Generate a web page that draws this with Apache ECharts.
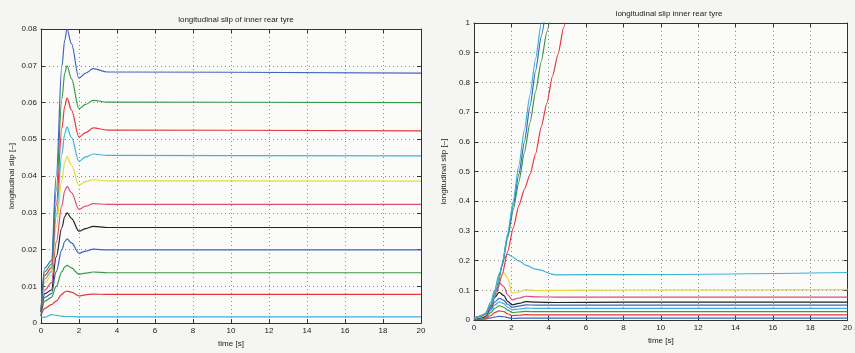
<!DOCTYPE html>
<html>
<head>
<meta charset="utf-8">
<script src="https://cdn.jsdelivr.net/npm/echarts@6/dist/echarts.min.js"></script>
<style>
  html, body { margin: 0; padding: 0; background: #f5f5f3; }
  #chart { width: 855px; height: 353px; }
</style>
</head>
<body>
<div id="chart"></div>
<script>
// left plot: longitudinal slip of inner rear tyre (stable cases)
const timeLeft = [0, 0.2, 0.55, 0.8, 1.1, 1.25, 1.37, 1.6, 2.0, 2.35, 2.75, 3.5, 20]
const leftBlue1 = [0.003, 0.015, 0.017, 0.040, 0.070, 0.077, 0.080, 0.076, 0.0666, 0.0680, 0.0692, 0.0683, 0.068]
const leftGreen1 = [0.003, 0.014, 0.016, 0.036, 0.061, 0.068, 0.070, 0.0665, 0.0583, 0.0595, 0.0606, 0.0601, 0.060]
const leftRed1 = [0.003, 0.013, 0.015, 0.032, 0.053, 0.059, 0.0612, 0.058, 0.0506, 0.0518, 0.0531, 0.0525, 0.0523]
const leftCyan1 = [0.003, 0.012, 0.014, 0.029, 0.046, 0.0515, 0.0533, 0.0505, 0.0440, 0.0452, 0.0460, 0.0456, 0.0455]
const leftYellow = [0.003, 0.011, 0.013, 0.026, 0.039, 0.0438, 0.0453, 0.043, 0.0375, 0.0385, 0.0390, 0.0387, 0.0386]
const leftMagenta = [0.003, 0.009, 0.011, 0.022, 0.032, 0.036, 0.0372, 0.0355, 0.0310, 0.0318, 0.0325, 0.0323, 0.0323]
const leftBlack = [0.003, 0.008, 0.009, 0.018, 0.026, 0.029, 0.0300, 0.0285, 0.0250, 0.0257, 0.0263, 0.0260, 0.0260]
const leftBlue2 = [0.002, 0.007, 0.008, 0.014, 0.020, 0.0222, 0.0229, 0.0218, 0.0190, 0.0196, 0.0201, 0.0199, 0.0199]
const leftGreen2 = [0.002, 0.006, 0.007, 0.010, 0.014, 0.0153, 0.0157, 0.0150, 0.0133, 0.0136, 0.0139, 0.0137, 0.0137]
const leftRed2 = [0.002, 0.004, 0.005, 0.006, 0.0078, 0.0085, 0.0087, 0.0084, 0.0074, 0.0077, 0.0079, 0.0078, 0.0078]
const leftCyan2 = [0.0015, 0.0016, 0.0023, 0.0021, 0.0019, 0.0018, 0.0018, 0.0018, 0.0017, 0.0017, 0.0017, 0.0017, 0.0017]

// right plot: longitudinal slip inner rear tyre (stable cases)
const timeRight = [0, 0.3, 0.6, 0.9, 1.1, 1.35, 1.6, 1.8, 2.05, 2.4, 2.8, 3.3, 4.4, 8, 20]
const rightCyan = [0.005, 0.012, 0.020, 0.060, 0.100, 0.155, 0.205, 0.222, 0.213, 0.199, 0.184, 0.171, 0.152, 0.153, 0.160]
const rightYellow = [0.004, 0.010, 0.016, 0.055, 0.100, 0.152, 0.160, 0.140, 0.090, 0.095, 0.102, 0.099, 0.100, 0.101, 0.102]
const rightMagenta = [0.004, 0.009, 0.014, 0.050, 0.095, 0.125, 0.112, 0.085, 0.068, 0.074, 0.080, 0.078, 0.077, 0.077, 0.077]
const rightBlack = [0.003, 0.008, 0.012, 0.045, 0.075, 0.093, 0.082, 0.063, 0.051, 0.056, 0.062, 0.060, 0.059, 0.060, 0.060]
const rightBlue = [0.003, 0.007, 0.011, 0.038, 0.060, 0.073, 0.066, 0.053, 0.043, 0.047, 0.051, 0.050, 0.050, 0.050, 0.050]
const rightCyan2 = [0.002, 0.006, 0.009, 0.032, 0.050, 0.061, 0.055, 0.043, 0.034, 0.037, 0.040, 0.039, 0.039, 0.039, 0.039]
const rightGreen = [0.002, 0.005, 0.007, 0.025, 0.039, 0.048, 0.043, 0.033, 0.025, 0.027, 0.029, 0.028, 0.028, 0.028, 0.028]
const rightRed = [0.002, 0.004, 0.005, 0.015, 0.025, 0.031, 0.028, 0.021, 0.015, 0.016, 0.018, 0.017, 0.017, 0.017, 0.017]
const rightBlue2 = [0.001, 0.002, 0.003, 0.007, 0.010, 0.012, 0.011, 0.008, 0.005, 0.006, 0.0065, 0.006, 0.006, 0.006, 0.006]

// diverging runs (leave the top of the axes)
const divTime = [0, 0.3, 0.6, 0.9, 1.2, 1.5, 1.8, 2.1, 2.4, 2.7, 3.0, 3.3, 3.6, 3.9, 4.2, 4.5, 4.8, 5.1]
const divCyan = [0.006, 0.012, 0.020, 0.050, 0.100, 0.185, 0.290, 0.400, 0.520, 0.640, 0.760, 0.880, 1.000, 1.120]
const divBlue = [0.006, 0.012, 0.020, 0.050, 0.100, 0.183, 0.285, 0.385, 0.490, 0.600, 0.720, 0.840, 0.955, 1.070]
const divGreen = [0.006, 0.012, 0.020, 0.050, 0.098, 0.180, 0.275, 0.370, 0.465, 0.565, 0.665, 0.770, 0.870, 0.970, 1.070]
const divRed = [0.006, 0.012, 0.020, 0.045, 0.090, 0.150, 0.230, 0.310, 0.385, 0.440, 0.490, 0.560, 0.650, 0.730, 0.820, 0.895, 0.985, 1.080]

const C = {
  b: '#3f67bd', g: '#3a9a48', r: '#e5393f', c: '#3db3d8',
  y: '#e3dc34', m: '#e04a78', k: '#222222'
}

function zip(t, v) {
  return v.map((y, i) => [t[i], y])
}

const fontFamily = 'Liberation Sans, Arial, sans-serif'

function line(t, v, color, grid, smooth) {
  return {
    type: 'line',
    data: zip(t, v),
    xAxisIndex: grid * 2,
    yAxisIndex: grid * 2,
    showSymbol: false,
    smooth: smooth === undefined ? 0.35 : smooth,
    smoothMonotone: 'x',
    clip: true,
    lineStyle: { color: color, width: 1.2 },
    silent: true,
    animation: false
  }
}

function xAxes(grid) {
  const base = {
    type: 'value', gridIndex: grid, min: 0, max: 20, interval: 2,
    axisLine: { show: true, onZero: false, lineStyle: { color: '#333', width: 1 } },
    axisTick: { show: true, inside: true, length: 4, lineStyle: { color: '#333' } }
  }
  return [
    Object.assign({}, base, {
      position: 'bottom',
      name: 'time [s]', nameLocation: 'middle', nameGap: 15,
      nameTextStyle: { fontSize: 8, color: '#222', fontFamily: fontFamily },
      axisLabel: { fontSize: 8, color: '#222', margin: 4, fontFamily: fontFamily },
      splitLine: { show: true, lineStyle: { color: '#8a8a8a', type: [1, 3], width: 1 } }
    }),
    Object.assign({}, base, {
      position: 'top', axisLabel: { show: false }, splitLine: { show: false }
    })
  ]
}

function yAxes(grid, max, interval, gap) {
  const base = {
    type: 'value', gridIndex: grid, min: 0, max: max, interval: interval,
    axisLine: { show: true, onZero: false, lineStyle: { color: '#333', width: 1 } },
    axisTick: { show: true, inside: true, length: 4, lineStyle: { color: '#333' } }
  }
  return [
    Object.assign({}, base, {
      position: 'left',
      name: 'longitudinal slip [\u2013]', nameLocation: 'middle', nameGap: gap,
      nameTextStyle: { fontSize: 8, color: '#222', fontFamily: fontFamily },
      axisLabel: { fontSize: 8, color: '#222', margin: 4, fontFamily: fontFamily },
      splitLine: { show: true, lineStyle: { color: '#8a8a8a', type: [1, 3], width: 1 } }
    }),
    Object.assign({}, base, {
      position: 'right', axisLabel: { show: false }, splitLine: { show: false }
    })
  ]
}

const chart = echarts.init(document.getElementById('chart'))
chart.setOption({
  backgroundColor: '#f5f5f3',
  animation: false,
  title: [
    {
      text: 'longitudinal slip of inner rear tyre', left: 231, top: 11, textAlign: 'center',
      textStyle: { fontSize: 8, fontWeight: 'normal', color: '#222', fontFamily: fontFamily }
    },
    {
      text: 'longitudinal slip inner rear tyre', left: 664, top: 5, textAlign: 'center',
      textStyle: { fontSize: 8, fontWeight: 'normal', color: '#222', fontFamily: fontFamily }
    }
  ],
  grid: [
    { left: 41, top: 29, width: 380, height: 298, show: true, backgroundColor: '#fbfbfa', borderWidth: 0 },
    { left: 474, top: 23, width: 376, height: 297, show: true, backgroundColor: '#fbfbfa', borderWidth: 0 }
  ],
  xAxis: xAxes(0).concat(xAxes(1)),
  yAxis: yAxes(0, 0.08, 0.01, 25).concat(yAxes(1, 1, 0.1, 26)),
  series: [
    line(timeLeft, leftCyan2, C.c, 0),
    line(timeLeft, leftRed2, C.r, 0),
    line(timeLeft, leftGreen2, C.g, 0),
    line(timeLeft, leftBlue2, C.b, 0),
    line(timeLeft, leftBlack, C.k, 0),
    line(timeLeft, leftMagenta, C.m, 0),
    line(timeLeft, leftYellow, C.y, 0),
    line(timeLeft, leftCyan1, C.c, 0),
    line(timeLeft, leftRed1, C.r, 0),
    line(timeLeft, leftGreen1, C.g, 0),
    line(timeLeft, leftBlue1, C.b, 0),

    line(timeRight, rightBlue2, C.b, 1),
    line(timeRight, rightRed, C.r, 1),
    line(timeRight, rightGreen, C.g, 1),
    line(timeRight, rightCyan2, C.c, 1),
    line(timeRight, rightBlue, C.b, 1),
    line(timeRight, rightBlack, C.k, 1),
    line(timeRight, rightMagenta, C.m, 1),
    line(timeRight, rightYellow, C.y, 1),
    line(timeRight, rightCyan, C.c, 1),
    line(divTime, divRed, C.r, 1, 0.2),
    line(divTime, divGreen, C.g, 1, 0.2),
    line(divTime, divBlue, C.b, 1, 0.2),
    line(divTime, divCyan, C.c, 1, 0.2)
  ]
})
</script>
</body>
</html>
